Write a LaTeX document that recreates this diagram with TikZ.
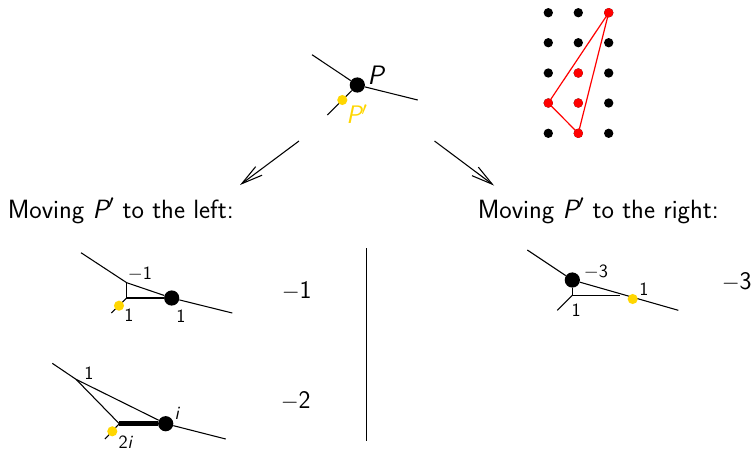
\documentclass[tikz,border=0pt]{standalone}
\usepackage{fontspec}
\usetikzlibrary{arrows.meta}
\definecolor{yel}{RGB}{255,214,0}
\renewcommand{\familydefault}{\sfdefault}
\tikzset{
  px/.style={x=0.75pt,y=-0.75pt},
  edge/.style={line width=0.8pt,black},
  bigdot/.style={circle,fill=black,inner sep=0pt,minimum size=11.4pt},
  yeldot/.style={circle,fill=yel,inner sep=0pt,minimum size=7.6pt},
  griddot/.style={circle,fill=black,inner sep=0pt,minimum size=7pt},
  reddot/.style={circle,fill=red,inner sep=0pt,minimum size=7pt},
  biglabel/.style={inner sep=0pt,font=\fontsize{19}{22}\selectfont},
  smalllabel/.style={inner sep=0pt,font=\fontsize{14}{16}\selectfont},
  heading/.style={inner sep=0pt,anchor=base west,font=\fontsize{19.8}{22}\selectfont},
  flow/.style={line width=0.8pt,-{Straight Barb[length=16pt,width=8pt,line width=0.8pt]}}
}
\begin{document}
\begin{tikzpicture}[px]
\useasboundingbox (0,0) rectangle (753,451);
% top fan
\coordinate (ta) at (312,54.7);
\coordinate (tb) at (417.7,100);
\coordinate (tc) at (327.3,115);
\node[bigdot] (P) at (357.3,85) {};
\draw[edge] (ta) -- (P) -- (tb);
\draw[edge] (P) -- (tc);
\node[yeldot] (Pp) at (342.3,100) {};
\node[biglabel,font=\fontsize{20}{22}\selectfont\itshape] (lP) at (375.7,75) {P};
\node[biglabel,text=yel] (lPp) at (357,114) {{\itshape P}$'$};
% grid
\foreach \i/\x in {1/548.3,2/578.3,3/608.7}
  \foreach \j/\y in {1/12.7,2/42.7,3/73,4/103,5/133.3}
    \node[griddot] (g\i\j) at (\x,\y) {};
\draw[red,line width=0.9pt] (g31.center) -- (g14.center) -- (g25.center) -- cycle;
\foreach \n in {g31,g14,g25,g23,g24}
  \node[reddot] at (\n) {};
% arrows
\coordinate (as) at (299,141);
\coordinate (ae) at (240,185);
\coordinate (bs) at (434.5,141);
\coordinate (be) at (494,185.5);
\draw[flow] (as) -- (ae);
\draw[flow] (bs) -- (be);
% headings
\node[heading] (hl) at (7.5,218.7) {Moving {\itshape P}$'$ to the left:};
\node[heading] (hr) at (477.5,218.7) {Moving {\itshape P}$'$ to the right:};
% left diagram 1
\coordinate (a1) at (81,252.7);
\coordinate (a2) at (126.7,282.7);
\coordinate (a3) at (232.3,313);
\coordinate (a4) at (126.7,298);
\coordinate (a5) at (111.3,313);
\node[bigdot] (A) at (171.7,298) {};
\draw[edge] (a1) -- (a2) -- (A) -- (a3);
\draw[edge] (a2) -- (a4) -- (A);
\draw[edge] (a4) -- (a5);
\node[yeldot] (Ay) at (119,305.7) {};
\node[smalllabel] (la) at (140,274) {$-$1};
\node[smalllabel] (lb) at (129,315.3) {1};
\node[smalllabel] (lc) at (181,316) {1};
\node[biglabel] (ld) at (296.7,291) {$-$1};
% left diagram 2
\coordinate (b1) at (52.3,363.3);
\coordinate (b2) at (76,379.3);
\coordinate (b3) at (225.7,439);
\coordinate (b4) at (119.3,423.7);
\coordinate (b5) at (105,439);
\node[bigdot] (B) at (165.7,423.7) {};
\draw[edge] (b1) -- (b2) -- (B) -- (b3);
\draw[edge] (b2) -- (b4) -- (b5);
\draw[line width=3.4pt] (b4) -- (B);
\node[yeldot] (By) at (112.3,431.3) {};
\node[smalllabel] (le) at (89,373.3) {1};
\node[smalllabel] (lf) at (176.7,413) {\itshape i};
\node[smalllabel] (lg) at (125.3,442.5) {2{\itshape i}};
\node[biglabel] (lh) at (295.7,401) {$-$2};
% divider
\coordinate (d1) at (366.5,248);
\coordinate (d2) at (366.5,441);
\draw[edge] (d1) -- (d2);
% right diagram
\coordinate (c1) at (527.3,250);
\coordinate (c2) at (678.3,310.3);
\coordinate (c3) at (572.3,295.3);
\coordinate (c4) at (620,295.3);
\coordinate (c5) at (557.3,310.3);
\node[bigdot] (C) at (572.3,280) {};
\draw[edge] (c1) -- (C) -- (c2);
\draw[edge] (C) -- (c3) -- (c4);
\draw[edge] (c3) -- (c5);
\node[yeldot] (Cy) at (632.7,299) {};
\node[smalllabel] (li) at (596,272.3) {$-$3};
\node[smalllabel] (lj) at (644,289.3) {1};
\node[smalllabel] (lk) at (576.3,310.3) {1};
\node[biglabel] (ll) at (736.7,282.3) {$-$3};
\end{tikzpicture}
\end{document}
